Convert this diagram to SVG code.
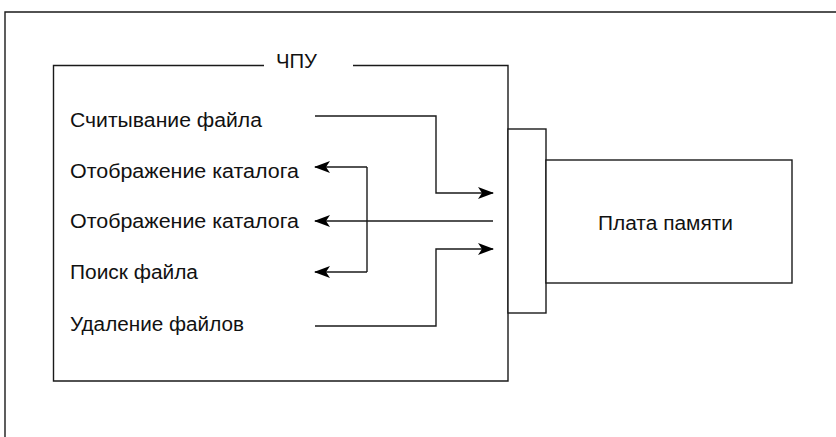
<svg xmlns="http://www.w3.org/2000/svg" width="836" height="437" viewBox="0 0 836 437">
<defs>
<style>
.ln{fill:none;stroke:#1a1a1a;stroke-width:1.4}
.box{fill:#fff;stroke:#1a1a1a;stroke-width:1.4}
.t{font-family:"Liberation Sans",Arial,Helvetica,sans-serif;font-size:20px;fill:#111}
</style>
<marker id="ah" viewBox="0 0 16 12" refX="15" refY="6" markerWidth="16" markerHeight="12" markerUnits="userSpaceOnUse" orient="auto">
<path d="M0,0 L16,6 L0,12 L4,6 Z" fill="#000"/>
</marker>
</defs>
<rect width="836" height="437" fill="#fff"/>
<g id="frame">
<path class="ln" d="M5,437 V12 H836"/>
</g>
<g id="cnc">
<path class="ln" d="M264,65.5 H53.5 V381 H508 V65.5 H353"/>
<text class="t" x="276" y="68" textLength="41" lengthAdjust="spacingAndGlyphs">ЧПУ</text>
<text class="t" x="70" y="127" textLength="192" lengthAdjust="spacingAndGlyphs">Считывание файла</text>
<text class="t" x="70" y="178" textLength="229" lengthAdjust="spacingAndGlyphs">Отображение каталога</text>
<text class="t" x="70" y="228" textLength="229" lengthAdjust="spacingAndGlyphs">Отображение каталога</text>
<text class="t" x="70" y="279" textLength="128" lengthAdjust="spacingAndGlyphs">Поиск файла</text>
<text class="t" x="70" y="331" textLength="174" lengthAdjust="spacingAndGlyphs">Удаление файлов</text>
</g>
<g id="connector">
<rect class="box" x="508" y="129" width="38" height="184"/>
</g>
<g id="memcard">
<rect class="box" x="546" y="160" width="246" height="123"/>
<text class="t" x="598" y="230" textLength="135" lengthAdjust="spacingAndGlyphs">Плата памяти</text>
</g>
<g id="connectors">
<path class="ln" d="M315,116 H436 V193 H493" marker-end="url(#ah)"/>
<path class="ln" d="M493,221 H315" marker-end="url(#ah)"/>
<path class="ln" d="M315,326 H436 V249 H493" marker-end="url(#ah)"/>
<path class="ln" d="M367,167 V272"/>
<path class="ln" d="M367,167 H315" marker-end="url(#ah)"/>
<path class="ln" d="M367,272 H315" marker-end="url(#ah)"/>
</g>
</svg>
